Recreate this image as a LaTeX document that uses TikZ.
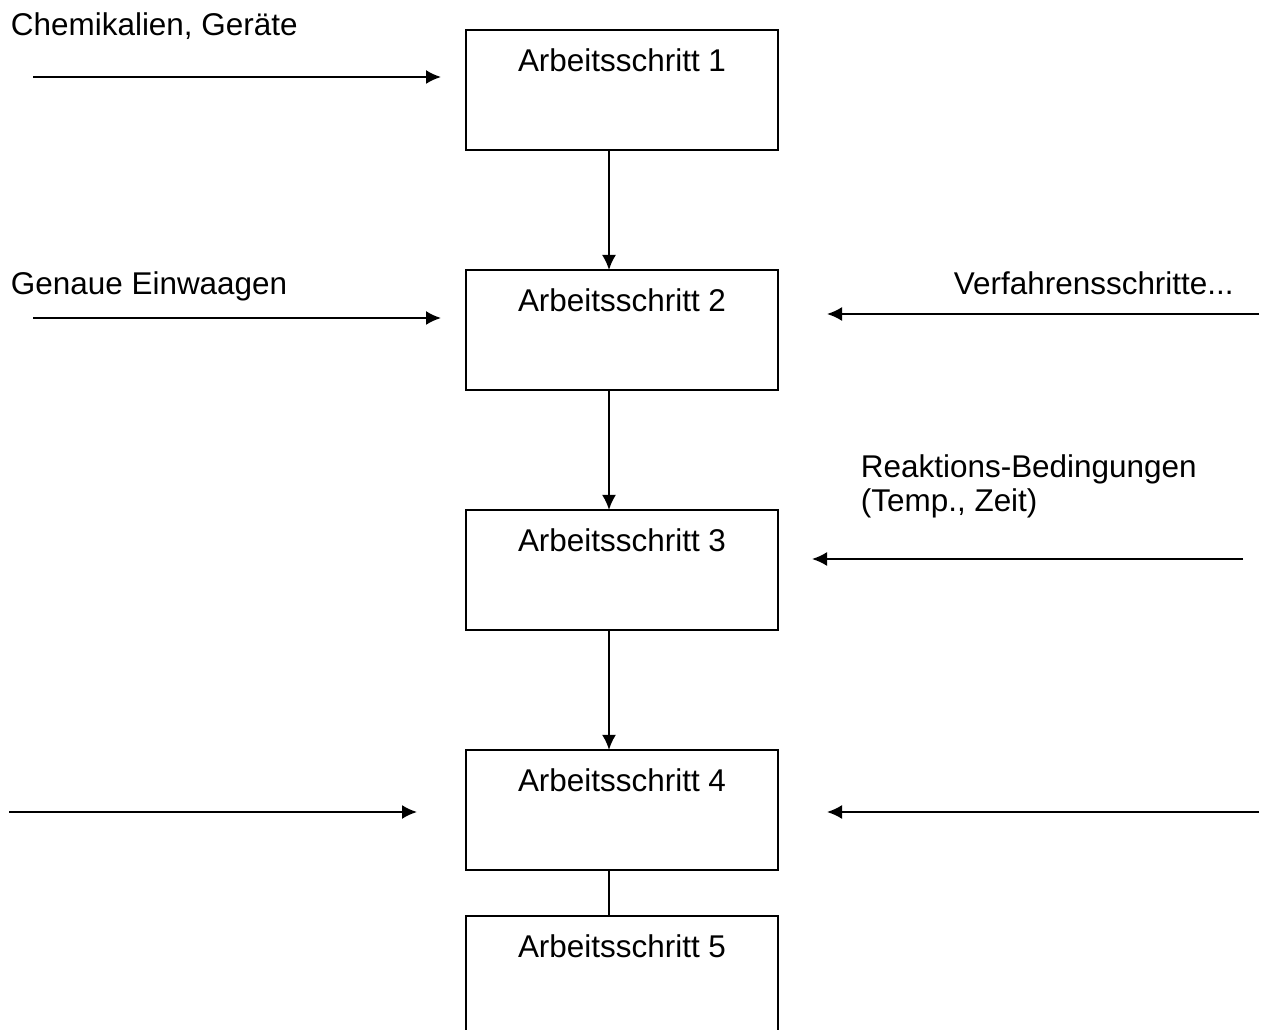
\documentclass[tikz,border=0pt]{standalone}
\usepackage{fontspec}
\setmainfont{Liberation Sans}
\usepackage{tikz}
\usetikzlibrary{arrows.meta}
\usetikzlibrary{positioning}
\tikzset{>={Latex[length=0.3cm,width=0.28cm]}}

\begin{document}
\begin{tikzpicture}[x=0.02cm, y=-0.02cm, line width=1.1pt,
        font=\fontsize{17.9pt}{19.8pt}\selectfont,
        stepbox/.style={draw, minimum width=6.24cm, inner xsep=0pt, inner ysep=0pt,
            outer sep=0pt, text height=0.84cm, text depth=1.56cm},
        note/.style={anchor=base west, inner sep=0pt, align=left}]
        \clip (0,0) rectangle (1262,1030);

        \node [stepbox] (Step1) at (622,90) {Arbeitsschritt 1};
        \node [stepbox, below=2.4cm of Step1] (Step2) {Arbeitsschritt 2};
        \node [stepbox, below=2.4cm of Step2] (Step3) {Arbeitsschritt 3};
        \node [stepbox, below=2.4cm of Step3] (Step4) {Arbeitsschritt 4};
        \node [stepbox, below=0.92cm of Step4] (Step5) {Arbeitsschritt 5};

        \draw [->] ([xshift=-0.26cm]Step1.south)--([xshift=-0.26cm]Step2.north);
        \draw [->] ([xshift=-0.26cm]Step2.south)--([xshift=-0.26cm]Step3.north);
        \draw [->] ([xshift=-0.26cm]Step3.south)--([xshift=-0.26cm]Step4.north);
        \draw ([xshift=-0.26cm]Step4.south)--([xshift=-0.26cm]Step5.north);

        \node [note] (Chem) at (10,36) {Chemikalien, Geräte};
        \node [note] (Einw) at (10,295) {Genaue Einwaagen};
        \node [note] (Verf) at (953,295) {Verfahrensschritte...};
        \node [note] (Reak) at (860,512) {Reaktions-Bedingungen\\(Temp., Zeit)};

        \coordinate (ChemIn) at (33,77);
        \coordinate (ChemEnd) at (441,77);
        \coordinate (EinwIn) at (33,318);
        \coordinate (EinwEnd) at (441,318);
        \coordinate (VerfIn) at (1259,314);
        \coordinate (VerfEnd) at (827,314);
        \coordinate (ReakIn) at (1243,559);
        \coordinate (ReakEnd) at (812,559);
        \coordinate (LeftIn) at (9,812);
        \coordinate (LeftEnd) at (417,812);
        \coordinate (RightIn) at (1259,812);
        \coordinate (RightEnd) at (827,812);

        \draw [->] (ChemIn)--(ChemEnd);
        \draw [->] (EinwIn)--(EinwEnd);
        \draw [->] (VerfIn)--(VerfEnd);
        \draw [->] (ReakIn)--(ReakEnd);
        \draw [->] (LeftIn)--(LeftEnd);
        \draw [->] (RightIn)--(RightEnd);
\end{tikzpicture}
\end{document}
